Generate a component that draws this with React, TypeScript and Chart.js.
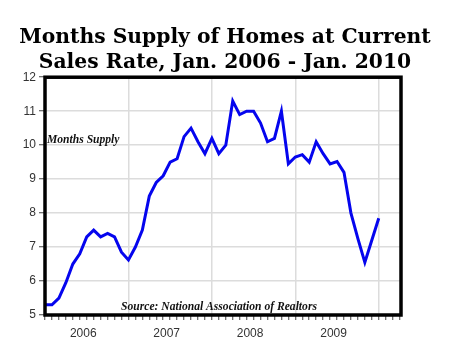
import React, { useEffect, useRef } from "react";
import { Chart, registerables } from "chart.js";

Chart.register(...registerables);

const titleLines = ["Months Supply of Homes at Current", "Sales Rate, Jan. 2006 - Jan. 2010"];
const seriesLabel = "Months Supply";
const sourceText = "Source: National Association of Realtors";
const yearLabels = ["2006", "2007", "2008", "2009"];
const yTicks = [5, 6, 7, 8, 9, 10, 11, 12];

const supply2006 = [5.3, 5.3, 5.5, 5.95, 6.5, 6.8, 7.3, 7.5, 7.3, 7.4, 7.3, 6.85];
const supply2007 = [6.62, 7.0, 7.5, 8.5, 8.9, 9.1, 9.5, 9.6, 10.25, 10.5, 10.1, 9.75];
const supply2008 = [10.2, 9.75, 10.0, 11.3, 10.9, 11.0, 11.0, 10.65, 10.1, 10.2, 11.0, 9.45];
const supply2009 = [9.65, 9.72, 9.5, 10.1, 9.75, 9.45, 9.52, 9.2, 8.0, 7.25, 6.55, 7.2];
const supply2010 = [7.85];

export default function App() {
  const ref = useRef<HTMLCanvasElement | null>(null);

  useEffect(() => {
    document.body.style.margin = "0";
    const canvas = ref.current;
    if (!canvas) return;
    const all = [...supply2006, ...supply2007, ...supply2008, ...supply2009, ...supply2010];
    const points = all.map((v, i) => ({ x: i, y: v }));
    const labelAt: Record<string, string> = {};
    yearLabels.forEach((y, i) => {
      labelAt[String(i * 12 + 5.5)] = y;
    });

    const overlay = {
      id: "overlay",
      afterDraw(chart: any) {
        const { ctx, chartArea } = chart;
        const { left, top, right, bottom } = chartArea;
        ctx.save();
        ctx.strokeStyle = "#000";
        ctx.lineWidth = 3.5;
        ctx.strokeRect(left, top, right - left, bottom - top);
        ctx.fillStyle = "#111";
        ctx.textBaseline = "middle";
        ctx.font = "bold italic 11.6px 'Liberation Serif'";
        ctx.textAlign = "left";
        ctx.fillText(seriesLabel, left + 2, 140);
        ctx.textAlign = "center";
        ctx.fillText(sourceText, 219, 307);
        ctx.restore();
      },
    };

    const chart = new Chart(canvas, {
      type: "line",
      data: {
        datasets: [
          {
            data: points,
            borderColor: "#0505ee",
            borderWidth: 3,
            pointRadius: 0,
            tension: 0,
            fill: false,
          },
        ],
      },
      options: {
        responsive: false,
        animation: false,
        layout: { padding: 0 },
        plugins: {
          legend: { display: false },
          tooltip: { enabled: false },
          title: {
            display: true,
            text: titleLines,
            color: "#000",
            font: { family: "'DejaVu Serif'", weight: "bold", size: 20.3, lineHeight: 1.2 },
            padding: { top: 26, bottom: 2.5 },
          },
        },
        scales: {
          x: {
            type: "linear",
            min: 0,
            max: 51.2,
            afterBuildTicks: (scale: any) => {
              const t: any[] = [];
              for (let i = 0; i <= 51; i++) t.push({ value: i });
              for (let k = 0; k < yearLabels.length; k++) t.push({ value: k * 12 + 5.5 });
              t.sort((a, b) => a.value - b.value);
              scale.ticks = t;
            },
            afterFit: (s: any) => {
              s.height = 43;
            },
            border: { display: false },
            grid: {
              color: (c: any) =>
                c.tick && Number.isInteger(c.tick.value) && c.tick.value % 12 === 0 ? "#dcdcdc" : "rgba(0,0,0,0)",
              lineWidth: 1.5,
              tickColor: (c: any) => (c.tick && Number.isInteger(c.tick.value) ? "#444" : "rgba(0,0,0,0)"),
              tickLength: 5,
              tickWidth: 1,
            },
            ticks: {
              autoSkip: false,
              maxRotation: 0,
              padding: 6,
              color: "#333",
              font: { family: "'Liberation Sans'", size: 12 },
              callback: (v: any) => labelAt[String(v)] || "",
            },
          },
          y: {
            min: 5,
            max: 12,
            afterBuildTicks: (scale: any) => {
              scale.ticks = yTicks.map((v) => ({ value: v }));
            },
            afterFit: (s: any) => {
              s.width = 45;
            },
            border: { display: false },
            grid: {
              color: "#dcdcdc",
              lineWidth: 1.5,
              tickColor: "#444",
              tickLength: 6,
              tickWidth: 1,
            },
            ticks: {
              padding: 3,
              color: "#333",
              font: { family: "'Liberation Sans'", size: 12 },
            },
          },
          yRight: {
            position: "right",
            min: 5,
            max: 12,
            afterFit: (s: any) => {
              s.width = 49;
            },
            border: { display: false },
            grid: { display: false },
            ticks: { display: false },
          },
        },
      },
      plugins: [overlay],
    });
    return () => chart.destroy();
  }, []);

  return (
    <div style={{ width: 450, height: 358, background: "#fff" }}>
      <canvas ref={ref} width={450} height={358} style={{ display: "block" }} />
    </div>
  );
}
